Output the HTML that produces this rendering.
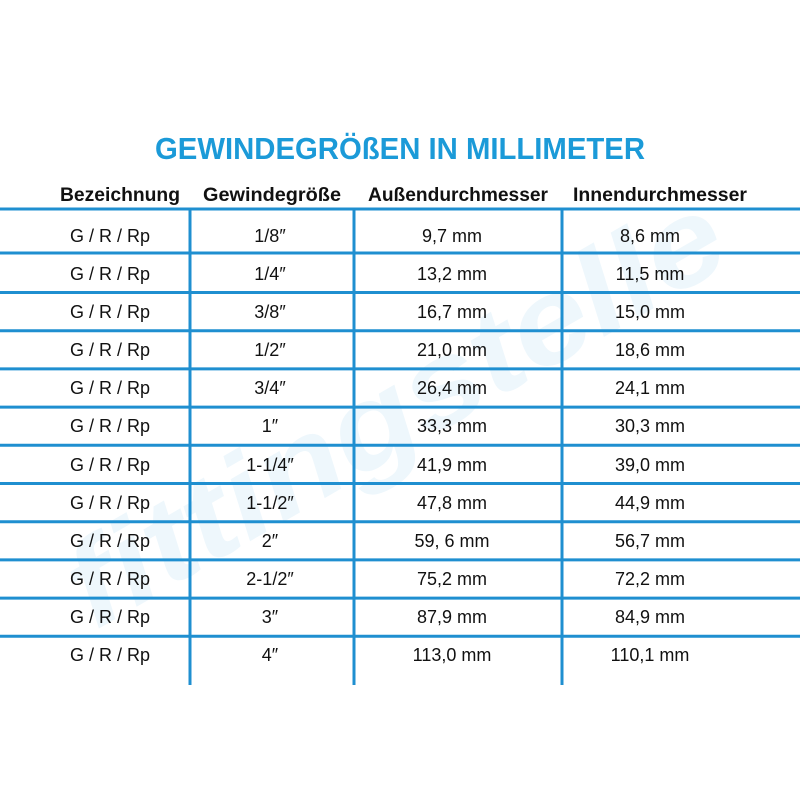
<!DOCTYPE html>
<html><head><meta charset="utf-8"><style>
html,body{margin:0;padding:0;background:#fff;width:800px;height:800px;overflow:hidden}
</style></head><body>
<svg width="800" height="800" viewBox="0 0 800 800" xmlns="http://www.w3.org/2000/svg" font-family="Liberation Sans, sans-serif" style="display:block">
<text x="400" y="450" transform="rotate(-30 400 420)" font-size="120" font-weight="bold" fill="#eef7fc" text-anchor="middle" font-style="italic" textLength="740" lengthAdjust="spacingAndGlyphs">fittingstelle</text>
<text x="400" y="159" text-anchor="middle" font-size="31" font-weight="bold" fill="#1b9ad8" textLength="490" lengthAdjust="spacingAndGlyphs">GEWINDEGRÖßEN IN MILLIMETER</text>
<g font-size="19" font-weight="bold" fill="#111" text-anchor="middle">
<text x="120" y="201" textLength="120" lengthAdjust="spacingAndGlyphs">Bezeichnung</text>
<text x="272" y="201" textLength="138" lengthAdjust="spacingAndGlyphs">Gewindegröße</text>
<text x="458" y="201" textLength="180" lengthAdjust="spacingAndGlyphs">Außendurchmesser</text>
<text x="660" y="201" textLength="174" lengthAdjust="spacingAndGlyphs">Innendurchmesser</text>
</g>
<g stroke="#1f8fd0" stroke-width="3">
<line x1="0" y1="209" x2="800" y2="209"/>
<line x1="0" y1="253" x2="800" y2="253"/>
<line x1="0" y1="292.5" x2="800" y2="292.5"/>
<line x1="0" y1="330.7" x2="800" y2="330.7"/>
<line x1="0" y1="368.9" x2="800" y2="368.9"/>
<line x1="0" y1="407.1" x2="800" y2="407.1"/>
<line x1="0" y1="445.3" x2="800" y2="445.3"/>
<line x1="0" y1="483.5" x2="800" y2="483.5"/>
<line x1="0" y1="521.7" x2="800" y2="521.7"/>
<line x1="0" y1="559.9" x2="800" y2="559.9"/>
<line x1="0" y1="598.1" x2="800" y2="598.1"/>
<line x1="0" y1="636.3" x2="800" y2="636.3"/>
<line x1="190" y1="209" x2="190" y2="685"/>
<line x1="354" y1="209" x2="354" y2="685"/>
<line x1="562" y1="209" x2="562" y2="685"/>
</g>
<g font-size="18" fill="#111" text-anchor="middle">
<text y="242"><tspan x="110">G / R / Rp</tspan><tspan x="270">1/8″</tspan><tspan x="452">9,7 mm</tspan><tspan x="650">8,6 mm</tspan></text>
<text y="280"><tspan x="110">G / R / Rp</tspan><tspan x="270">1/4″</tspan><tspan x="452">13,2 mm</tspan><tspan x="650">11,5 mm</tspan></text>
<text y="318"><tspan x="110">G / R / Rp</tspan><tspan x="270">3/8″</tspan><tspan x="452">16,7 mm</tspan><tspan x="650">15,0 mm</tspan></text>
<text y="356"><tspan x="110">G / R / Rp</tspan><tspan x="270">1/2″</tspan><tspan x="452">21,0 mm</tspan><tspan x="650">18,6 mm</tspan></text>
<text y="394"><tspan x="110">G / R / Rp</tspan><tspan x="270">3/4″</tspan><tspan x="452">26,4 mm</tspan><tspan x="650">24,1 mm</tspan></text>
<text y="432"><tspan x="110">G / R / Rp</tspan><tspan x="270">1″</tspan><tspan x="452">33,3 mm</tspan><tspan x="650">30,3 mm</tspan></text>
<text y="471"><tspan x="110">G / R / Rp</tspan><tspan x="270">1-1/4″</tspan><tspan x="452">41,9 mm</tspan><tspan x="650">39,0 mm</tspan></text>
<text y="509"><tspan x="110">G / R / Rp</tspan><tspan x="270">1-1/2″</tspan><tspan x="452">47,8 mm</tspan><tspan x="650">44,9 mm</tspan></text>
<text y="547"><tspan x="110">G / R / Rp</tspan><tspan x="270">2″</tspan><tspan x="452">59, 6 mm</tspan><tspan x="650">56,7 mm</tspan></text>
<text y="585"><tspan x="110">G / R / Rp</tspan><tspan x="270">2-1/2″</tspan><tspan x="452">75,2 mm</tspan><tspan x="650">72,2 mm</tspan></text>
<text y="623"><tspan x="110">G / R / Rp</tspan><tspan x="270">3″</tspan><tspan x="452">87,9 mm</tspan><tspan x="650">84,9 mm</tspan></text>
<text y="661"><tspan x="110">G / R / Rp</tspan><tspan x="270">4″</tspan><tspan x="452">113,0 mm</tspan><tspan x="650">110,1 mm</tspan></text>
</g>
</svg>
</body></html>
